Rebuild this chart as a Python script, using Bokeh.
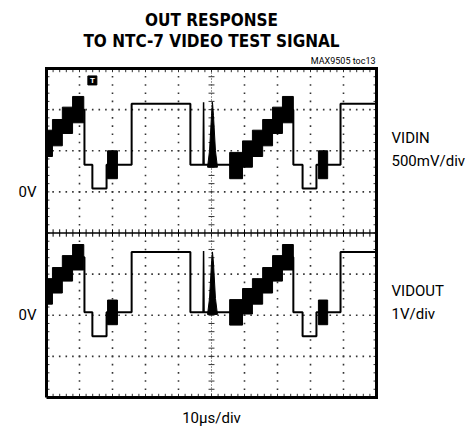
import numpy as np
from bokeh.plotting import figure
from bokeh.models import Label
from bokeh.embed import file_html
from bokeh.resources import INLINE

# ---------------- data ----------------
# time in microseconds (10 us/div, 10 divisions)
seg_start_us = [0.0, 1.8, 4.8, 7.9, 11.5, 13.9, 18.2, 25.8, 43.6,
                55.5, 59.4, 62.4, 65.5, 68.5, 71.5, 74.8, 77.6, 81.8, 89.1]
seg_end_us = seg_start_us[1:] + [100.0]
# luminance level of each segment (volts)
vidin_level_v = [0.59, 0.72, 0.87, 1.00, 0.33, 0.04, 0.33, 1.07, 0.33,
                 0.32, 0.46, 0.59, 0.72, 0.87, 1.00, 0.33, 0.04, 0.33, 1.07]
vidout_level_v = [0.58, 0.85, 1.14, 1.41, 0.07, -0.51, 0.07, 1.54, 0.07,
                  0.07, 0.34, 0.58, 0.85, 1.14, 1.41, 0.07, -0.51, 0.07, 1.54]

# chroma (modulated staircase steps and colour bursts): envelope bands
chroma_start_us = [0.0, 1.8, 4.8, 7.9, 18.5, 55.5, 59.4, 62.4, 65.5, 68.5, 71.5, 82.4]
chroma_end_us = [1.8, 4.8, 7.9, 11.3, 21.5, 59.4, 62.4, 65.5, 68.5, 71.5, 74.8, 85.2]
vidin_chroma_center_v = [0.59, 0.72, 0.87, 1.00, 0.33, 0.32, 0.46, 0.59, 0.72, 0.87, 1.00, 0.33]
vidin_chroma_half_v = [0.16, 0.16, 0.16, 0.16, 0.17, 0.16, 0.16, 0.16, 0.16, 0.16, 0.16, 0.17]
vidout_chroma_center_v = [0.58, 0.85, 1.14, 1.41, 0.07, 0.07, 0.34, 0.58, 0.85, 1.14, 1.41, 0.07]
vidout_chroma_half_v = [0.31, 0.31, 0.31, 0.31, 0.30, 0.31, 0.31, 0.31, 0.31, 0.31, 0.31, 0.30]

# 2T pulse
pulse2t_t_us = [47.45, 47.6, 47.75]
pulse2t_vidin_v = [0.33, 1.09, 0.33]
pulse2t_vidout_v = [0.07, 1.56, 0.07]
# 12.5T modulated pulse outline
pulse12_t_us = [48.8, 49.4, 50.0, 50.3, 50.6, 51.2, 51.8]
pulse12_vidin_v = [0.30, 0.50, 0.93, 1.09, 0.93, 0.50, 0.30]
pulse12_vidout_v = [0.02, 0.41, 1.27, 1.54, 1.27, 0.41, 0.02]

# channel settings (volts/div and ground position in divisions from bottom)
vidin_vdiv, vidin_zero_div = 0.5, 5.0
vidout_vdiv, vidout_zero_div = 1.0, 2.0
trigger_t_us = 13.9

FONT = "Roboto"
TITLE_FONT = "DejaVu Sans Condensed"
INK = "black"

# ---------------- canvas geometry ----------------
W, H = 466, 433
SCOPE_L, SCOPE_T, SCOPE_W, SCOPE_H = 46, 68, 330, 329
px_per_us = SCOPE_W / 100.0
px_per_div = SCOPE_H / 8.0
x0 = -SCOPE_L / px_per_us
x1 = x0 + W / px_per_us
y1 = 8 + SCOPE_T / px_per_div
y0 = y1 - H / px_per_div


def to_div(v, vdiv, zero):
    return zero + np.asarray(v, dtype=float) / vdiv


p = figure(width=W, height=H, x_range=(x0, x1), y_range=(y0, y1),
           output_backend="svg", toolbar_location=None,
           x_axis_location=None, y_axis_location=None, min_border=0)
p.grid.visible = False
p.outline_line_color = None
p.background_fill_color = "white"
p.border_fill_color = "white"

# ---------------- graticule ----------------
dot_c = "#333333"
for gx in [10, 20, 30, 40, 60, 70, 80, 90]:
    ys = np.arange(0.2, 8.0, 0.2)
    p.scatter(np.full(len(ys), gx), ys, marker="square", size=1.6,
              fill_color=dot_c, line_color=None)
for gy in [1, 2, 3, 5, 6, 7]:
    xs = np.arange(2, 100, 2)
    p.scatter(xs, np.full(len(xs), gy), marker="square", size=1.6,
              fill_color=dot_c, line_color=None)

# edge ticks
ex = np.arange(2, 100, 2)
ey = np.arange(0.2, 8.0, 0.2)
p.segment(ex, np.zeros(len(ex)), ex, np.full(len(ex), 0.09), line_color=dot_c, line_width=1)
p.segment(ex, np.full(len(ex), 8.0), ex, np.full(len(ex), 7.91), line_color=dot_c, line_width=1)
p.segment(np.zeros(len(ey)), ey, np.full(len(ey), 0.9), ey, line_color=dot_c, line_width=1)
p.segment(np.full(len(ey), 100.0), ey, np.full(len(ey), 99.1), ey, line_color=dot_c, line_width=1)

# centre cross
p.line([0, 100], [4, 4], line_color=INK, line_width=1.6)
p.segment(ex, np.full(len(ex), 3.91), ex, np.full(len(ex), 4.09), line_color=INK, line_width=1)
p.line([50, 50], [0, 8], line_color=dot_c, line_width=1, line_dash="1 2")
p.segment(np.full(len(ey), 49.1), ey, np.full(len(ey), 50.9), ey, line_color=dot_c, line_width=1)

# scope border
p.line([0, 100, 100, 0, 0], [0, 0, 8, 8, 0], line_color=INK, line_width=3, line_join="miter")

# ---------------- traces ----------------
def draw_channel(levels, c_center, c_half, p2t, p12, vdiv, zero):
    xs, ys = [], []
    for s, e, lv in zip(seg_start_us, seg_end_us, levels):
        xs += [s, e]
        ys += [lv, lv]
    p.line(xs, to_div(ys, vdiv, zero), line_color=INK, line_width=2)
    cc = np.asarray(c_center)
    ch = np.asarray(c_half)
    p.quad(left=chroma_start_us, right=chroma_end_us,
           bottom=to_div(cc - ch, vdiv, zero), top=to_div(cc + ch, vdiv, zero),
           fill_color=INK, line_color=INK, line_width=1)
    p.line(pulse2t_t_us, to_div(p2t, vdiv, zero), line_color=INK, line_width=1.5)
    p.patch(pulse12_t_us, to_div(p12, vdiv, zero), fill_color=INK, line_color=INK, line_width=1)


draw_channel(vidin_level_v, vidin_chroma_center_v, vidin_chroma_half_v,
             pulse2t_vidin_v, pulse12_vidin_v, vidin_vdiv, vidin_zero_div)
draw_channel(vidout_level_v, vidout_chroma_center_v, vidout_chroma_half_v,
             pulse2t_vidout_v, pulse12_vidout_v, vidout_vdiv, vidout_zero_div)

# trigger marker
p.scatter([trigger_t_us], [7.71], marker="square", size=9, fill_color=INK, line_color=INK)
p.add_layout(Label(x=trigger_t_us, y=7.71, text="T", text_color="white",
                   text_font=FONT, text_font_style="bold", text_font_size="8px",
                   text_align="center", text_baseline="middle"))

# ---------------- texts ----------------
def lab(x, y, text, size, xo=0, yo=0, align="left", base="middle", style="normal", font=FONT):
    p.add_layout(Label(x=x, y=y, x_offset=xo, y_offset=yo, text=text,
                       text_font=font, text_font_size=size, text_font_style=style,
                       text_color=INK, text_align=align, text_baseline=base))


lab(50, 8, "OUT RESPONSE", "17px", yo=49, align="center", base="middle", style="bold", font=TITLE_FONT)
lab(50, 8, "TO NTC-7 VIDEO TEST SIGNAL", "17px", yo=28, align="center", base="middle", style="bold", font=TITLE_FONT)
lab(100, 8, "MAX9505 toc13", "9px", xo=-1, yo=8, align="right", base="middle")

lab(0, vidin_zero_div, "0V", "15px", xo=-10, align="right")
lab(0, vidout_zero_div, "0V", "15px", xo=-10, align="right")
lab(100, 6.30, "VIDIN", "15px", xo=15)
lab(100, 5.76, "500mV/div", "15px", xo=15)
lab(100, 2.60, "VIDOUT", "15px", xo=15)
lab(100, 2.04, "1V/div", "15px", xo=15)
lab(50, 0, "10\u00b5s/div", "15px", yo=-20, align="center")

open("out.html", "w").write(file_html(p, INLINE))
